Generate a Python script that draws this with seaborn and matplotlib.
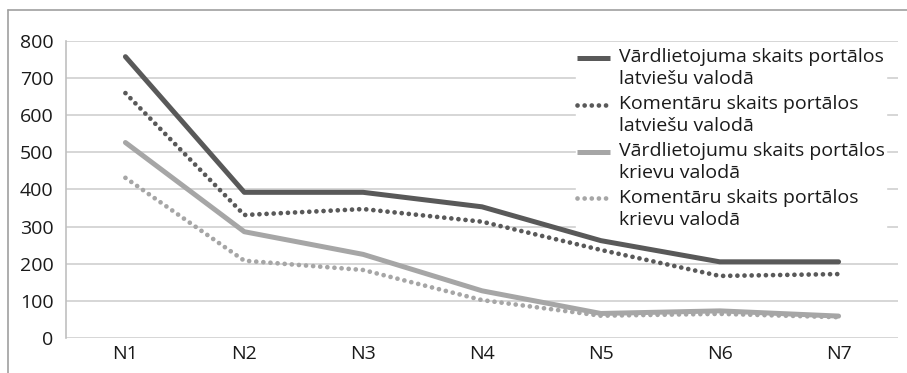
import matplotlib
matplotlib.use("Agg")
import matplotlib.pyplot as plt
import seaborn as sns
import pandas as pd
import numpy as np
from matplotlib.lines import Line2D
from matplotlib.legend_handler import HandlerLine2D

categories = ["N1", "N2", "N3", "N4", "N5", "N6", "N7"]
lv_words = [757, 392, 392, 353, 262, 205, 205]
lv_comments = [659, 331, 347, 313, 237, 167, 172]
ru_words = [526, 286, 225, 127, 66, 73, 59]
ru_comments = [431, 208, 183, 102, 60, 65, 56]
series_names = [
    "Vārdlietojuma skaits portālos\nlatviešu valodā",
    "Komentāru skaits portālos\nlatviešu valodā",
    "Vārdlietojumu skaits portālos\nkrievu valodā",
    "Komentāru skaits portālos\nkrievu valodā",
]
y_ticks = [0, 100, 200, 300, 400, 500, 600, 700, 800]

sns.set_theme(style="white")
plt.rcParams["font.family"] = ["Open Sans", "DejaVu Sans"]

DARK = "#595959"
LIGHT = "#a6a6a6"
TXT = "#1a1a1a"
styles = [
    dict(color=DARK, lw=3.6, ls="-"),
    dict(color=DARK, lw=3.4, ls=(0, (0.01, 1.5))),
    dict(color=LIGHT, lw=3.6, ls="-"),
    dict(color=LIGHT, lw=3.4, ls=(0, (0.01, 1.5))),
]
values = [lv_words, lv_comments, ru_words, ru_comments]

fig = plt.figure(figsize=(9.07, 3.73), dpi=100)
ax = fig.add_axes([66 / 907, 1 - 338 / 373, (898 - 66) / 907, (338 - 40.7) / 373])

for name, vals, st in zip(series_names, values, styles):
    df = pd.DataFrame({"cat": categories, "val": vals})
    sns.lineplot(data=df, x="cat", y="val", ax=ax, color=st["color"],
                 linewidth=st["lw"], linestyle=st["ls"], sort=False, label=name)
for ln in ax.lines:
    ln.set_dash_capstyle("round")
    ln.set_solid_capstyle("round")
    ln.set_solid_joinstyle("round")
    ln.set_dash_joinstyle("round")
    ln.set_zorder(3)

ax.set_xlim(-0.5, 6.5)
ax.set_ylim(0, 800)
ax.set_yticks(y_ticks)
ax.set_xlabel("")
ax.set_ylabel("")
ax.grid(axis="y", color="#d0d0d0", linewidth=1.2)
ax.set_axisbelow(True)
for s in ["top", "right", "bottom"]:
    ax.spines[s].set_visible(False)
ax.spines["left"].set_color("#c0c0c0")
ax.spines["left"].set_linewidth(1.2)
ax.tick_params(axis="both", length=0, labelsize=14, colors=TXT)
ax.tick_params(axis="y", pad=9)
ax.tick_params(axis="x", pad=5)


class UpHandler(HandlerLine2D):
    def create_artists(self, legend, orig_handle, xdescent, ydescent,
                       width, height, fontsize, trans):
        arts = super().create_artists(legend, orig_handle, xdescent, ydescent,
                                      width, height, fontsize, trans)
        for a in arts:
            if isinstance(a, Line2D):
                a.set_ydata(np.asarray(a.get_ydata()) + 0.55 * fontsize)
                a.set_dash_capstyle("round")
                a.set_solid_capstyle("butt")
        return arts


handles, labels = ax.get_legend_handles_labels()
leg = ax.legend(handles, labels, loc="upper left",
                bbox_to_anchor=(576 / 907, 1 - 47 / 373),
                bbox_transform=fig.transFigure, fontsize=14, frameon=True,
                framealpha=1, edgecolor="white", fancybox=False,
                handlelength=1.7, handletextpad=0.45, labelspacing=0.33,
                borderpad=0.05, borderaxespad=0,
                handler_map={Line2D: UpHandler()})
leg.set_zorder(1.5)
for t in leg.get_texts():
    t.set_linespacing(1.32)
    t.set_color(TXT)

# outer frame
fig.add_artist(Line2D([8 / 907, 8 / 907], [0, 1 - 10 / 373], transform=fig.transFigure,
                      color="#a0a0a0", lw=1.2))
fig.add_artist(Line2D([8 / 907, 1], [1 - 10 / 373, 1 - 10 / 373], transform=fig.transFigure,
                      color="#a0a0a0", lw=1.2))

fig.savefig("out.png", dpi=100)
